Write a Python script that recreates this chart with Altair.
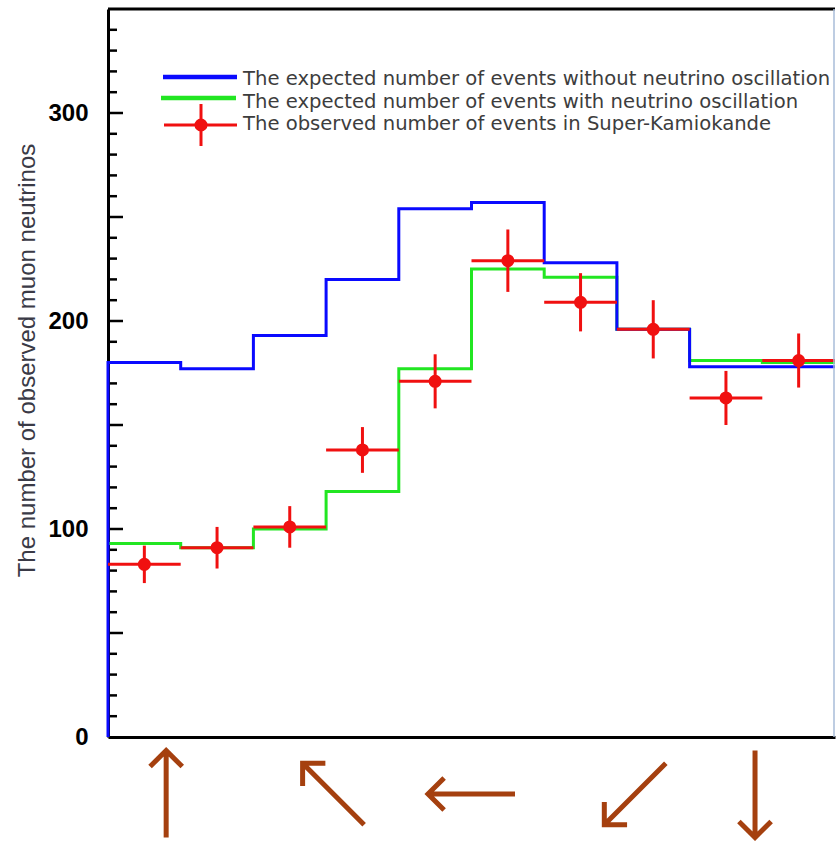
import altair as alt
import pandas as pd

# Zenith-angle bins (cos theta), from upward-going (-1) to downward-going (+1)
cos_edges = [-1.0, -0.8, -0.6, -0.4, -0.2, 0.0, 0.2, 0.4, 0.6, 0.8, 1.0]
expected_no_osc = [180, 177, 193, 220, 254, 257, 228, 196, 178, 178]
expected_osc = [93, 91, 100, 118, 177, 225, 221, 196, 181, 180]
observed = [83, 91, 101, 138, 171, 229, 209, 196, 163, 181]
observed_err = [9, 10, 10, 11, 13, 15, 14, 14, 13, 13]

legend_labels = [
    "The expected number of events without neutrino oscillation",
    "The expected number of events with neutrino oscillation",
    "The observed number of events in Super-Kamiokande",
]

y_labels = [0, 100, 200, 300]
y_major_ticks = [50, 100, 150, 200, 250, 300]
y_minor_ticks = [v for v in range(10, 350, 10) if v % 50]

# Direction of the incoming neutrino under each part of the axis
arrow_pos = [-0.84, -0.38, 0.0, 0.45, 0.78]
arrow_angle = [0, 315, 270, 225, 180]

W, H = 727, 728
BLUE, GREEN, RED = "#0a0aff", "#22e622", "#f01010"
BROWN = "#a5400f"
ARROW_PATH = "M0,1L0,-1M-0.37,-0.63L0,-1L0.37,-0.63"


def step_rows(values, drop_left=False):
    rows = []
    if drop_left:
        rows.append({"x": cos_edges[0], "y": 0})
    for i, v in enumerate(values):
        rows.append({"x": cos_edges[i], "y": v})
        rows.append({"x": cos_edges[i + 1], "y": v})
    df = pd.DataFrame(rows)
    df["order"] = range(len(df))
    return df


obs_df = pd.DataFrame({
    "lo": cos_edges[:-1],
    "hi": cos_edges[1:],
    "n": observed,
    "err": observed_err,
})
obs_df["mid"] = (obs_df["lo"] + obs_df["hi"]) / 2
obs_df["n_lo"] = obs_df["n"] - obs_df["err"]
obs_df["n_hi"] = obs_df["n"] + obs_df["err"]

xscale = alt.Scale(domain=[-1, 1], nice=False, zero=False)
yscale = alt.Scale(domain=[0, 350], nice=False)

xaxis = alt.Axis(labels=False, ticks=False, grid=False, domainColor="black",
                 domainWidth=3, title=None)
yaxis = alt.Axis(values=y_labels, ticks=False, grid=False, domainColor="black",
                 domainWidth=3, labelFont="Liberation Sans", labelFontWeight="bold",
                 labelFontSize=24, labelColor="black", labelPadding=20,
                 title="The number of observed muon neutrinos",
                 titleFont="Liberation Sans", titleFontSize=24,
                 titleFontWeight="normal", titleColor="#3a3a46",
                 titleX=-81, titleY=351, titleAngle=270, titleAlign="center",
                 titleBaseline="middle")


def X(field):
    return alt.X(field, type="quantitative", scale=xscale, axis=xaxis)


def Y(field):
    return alt.Y(field, type="quantitative", scale=yscale, axis=yaxis)


# Inward-pointing ticks on the left frame
major_ticks = alt.Chart(pd.DataFrame({"v": y_major_ticks})).mark_rule(
    color="black", strokeWidth=2.5
).encode(y=Y("v"), x=alt.value(0), x2=alt.value(15))
minor_ticks = alt.Chart(pd.DataFrame({"v": y_minor_ticks})).mark_rule(
    color="black", strokeWidth=2.5
).encode(y=Y("v"), x=alt.value(0), x2=alt.value(9))

green_line = alt.Chart(step_rows(expected_osc)).mark_line(
    color=GREEN, strokeWidth=3
).encode(x=X("x"), y=Y("y"), order="order:Q")

blue_line = alt.Chart(step_rows(expected_no_osc, drop_left=True)).mark_line(
    color=BLUE, strokeWidth=3
).encode(x=X("x"), y=Y("y"), order="order:Q")

obs_base = alt.Chart(obs_df)
obs_h = obs_base.mark_rule(color=RED, strokeWidth=3).encode(
    x=X("lo"), x2="hi", y=Y("n"))
obs_v = obs_base.mark_rule(color=RED, strokeWidth=3).encode(
    x=X("mid"), y=Y("n_lo"), y2="n_hi")
obs_pt = obs_base.mark_circle(color=RED, size=170, opacity=1).encode(
    x=X("mid"), y=Y("n"))

# Legend drawn inside the plot
leg_blue = alt.Chart().mark_rule(color=BLUE, strokeWidth=4.5).encode(
    x=alt.value(55), x2=alt.value(129), y=alt.value(68))
leg_green = alt.Chart().mark_rule(color=GREEN, strokeWidth=4.5).encode(
    x=alt.value(53), x2=alt.value(128), y=alt.value(89))
leg_red_h = alt.Chart().mark_rule(color=RED, strokeWidth=3).encode(
    x=alt.value(56), x2=alt.value(129), y=alt.value(116))
leg_red_v = alt.Chart().mark_rule(color=RED, strokeWidth=3).encode(
    x=alt.value(93), y=alt.value(95), y2=alt.value(137))
leg_red_pt = alt.Chart().mark_circle(color=RED, size=170, opacity=1).encode(
    x=alt.value(93), y=alt.value(116))
leg_text = alt.Chart().mark_text(
    text=legend_labels, align="left", baseline="alphabetic", lineHeight=22.5,
    font="DejaVu Sans", fontSize=19.6, color="#3d3d3d"
).encode(x=alt.value(135), y=alt.value(76))

arrows = alt.Chart(pd.DataFrame({"pos": arrow_pos, "angle": arrow_angle})).mark_point(
    shape=ARROW_PATH, size=7569, filled=False, stroke=BROWN, strokeWidth=5,
    strokeCap="butt", opacity=1
).encode(x=X("pos"), y=alt.value(785), angle=alt.Angle("angle:Q", scale=None))

top_border = alt.Chart().mark_rule(color="black", strokeWidth=3).encode(
    x=alt.value(0), x2=alt.value(W), y=alt.value(0))
right_border = alt.Chart().mark_rule(color="#a9bcd9", strokeWidth=1.5).encode(
    x=alt.value(W - 1), y=alt.value(0), y2=alt.value(H))

chart = alt.layer(
    major_ticks, minor_ticks, green_line, blue_line,
    obs_h, obs_v, obs_pt,
    leg_blue, leg_green, leg_red_h, leg_red_v, leg_red_pt, leg_text,
    arrows, top_border, right_border,
).properties(
    width=W, height=H,
    padding={"left": 108, "top": 9, "right": 1, "bottom": 104},
    autosize=alt.AutoSizeParams(type="none"),
    background="white",
).configure_view(stroke=None)

chart.save("out.html", embed_options={"renderer": "svg", "actions": False})
